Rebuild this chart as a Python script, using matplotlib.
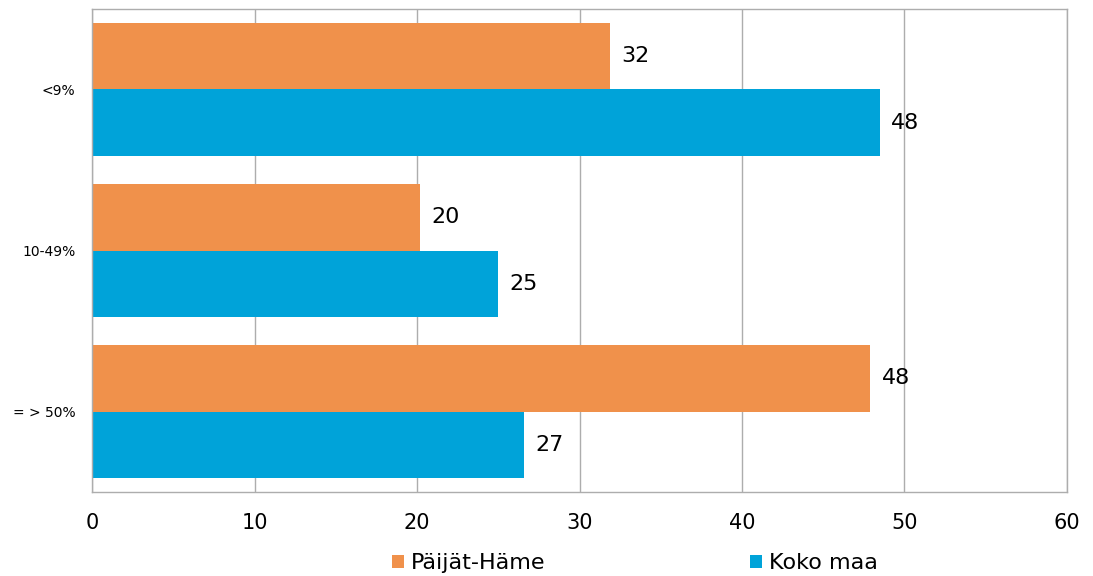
import matplotlib.pyplot as plt
import numpy as np

plt.rcParams['font.family'] = ['DejaVu Sans']

categories = ["<9%", "10-49%", "= > 50%"]
paijat_hame = [31.9, 20.2, 47.9]
koko_maa = [48.5, 25.0, 26.6]
series_names = ["Päijät-Häme", "Koko maa"]
colors = ["#F0914B", "#00A3D9"]

fig = plt.figure(figsize=(10.93, 5.76), dpi=100)
ax = fig.add_axes([0.0842, 0.1458, 0.8920, 0.8386])

y = np.arange(len(categories))
h = 0.415
bars1 = ax.barh(y - h / 2, paijat_hame, height=h, color=colors[0], label=series_names[0], zorder=2)
bars2 = ax.barh(y + h / 2, koko_maa, height=h, color=colors[1], label=series_names[1], zorder=2)

for bars, vals in [(bars1, paijat_hame), (bars2, koko_maa)]:
    for b, v in zip(bars, vals):
        ax.annotate(f"{v:.0f}", (b.get_width(), b.get_y() + b.get_height() / 2),
                    xytext=(8, 0), textcoords="offset points",
                    ha="left", va="center", fontsize=16, color="black", zorder=3)

ax.set_xlim(0, 60)
ax.set_ylim(len(categories) - 0.5, -0.5)
ax.set_xticks(np.arange(0, 61, 10))
ax.set_yticks(y)
ax.set_yticklabels(categories, fontsize=10)
ax.tick_params(axis="x", labelsize=15, length=0, pad=15)
ax.tick_params(axis="y", length=0, pad=12)
ax.grid(axis="x", color="#ADADAD", linewidth=1, zorder=0)
for s in ax.spines.values():
    s.set_color("#ADADAD")
    s.set_linewidth(1)

fig.legend(handles=[bars1, bars2], labels=series_names, loc="lower center",
           bbox_to_anchor=(0.581, -0.03), ncol=2, frameon=False, fontsize=16,
           handlelength=0.55, handleheight=0.55, handletextpad=0.3, columnspacing=9.2)

fig.savefig("out.png", dpi=100)
